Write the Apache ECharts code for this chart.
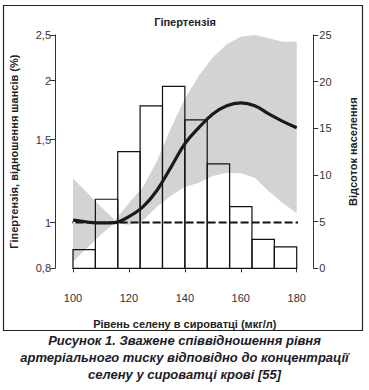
<!DOCTYPE html>
<html>
<head>
<meta charset="utf-8">
<script src="https://cdn.jsdelivr.net/npm/echarts@6/dist/echarts.min.js"></script>
<style>
html,body{margin:0;padding:0;background:#fff;}
#chart{width:369px;height:390px;}
</style>
</head>
<body>
<div id="chart"></div>
<script>
// ---- data ----
const chartTitle = 'Гіпертензія';
const xName = 'Рівень селену в сироватці (мкг/л)';
const yLeftName = 'Гіпертензія, відношення шансів (%)';
const yRightName = 'Відсоток населення';
const captionLines = [
  'Рисунок 1. Зважене співвідношення рівня',
  'артеріального тиску відповідно до концентрації',
  'селену у сироватці крові [55]'
];
const xTicks = [100, 120, 140, 160, 180];
const leftTicks = [0.8, 1, 1.5, 2, 2.5];
const rightTicks = [0, 5, 10, 15, 20, 25];

// histogram: bin start, bin end, percent of population
const binStart = [100, 108, 116, 124, 132, 140, 148, 156, 164, 172];
const binEnd   = [108, 116, 124, 132, 140, 148, 156, 164, 172, 180];
const binPct   = [2.0, 7.4, 12.5, 17.4, 19.5, 15.9, 11.2, 6.6, 3.1, 2.3];

// odds ratio curve
const curveX = [100, 105, 110, 115, 120, 125, 130, 135, 140, 145, 150, 155, 160, 165, 170, 175, 180];
const curveY = [1.012, 1.003, 0.998, 1.0, 1.03, 1.08, 1.17, 1.31, 1.47, 1.59, 1.70, 1.77, 1.795, 1.77, 1.70, 1.64, 1.59];

// confidence band
const bandX     = [100, 105, 110, 115, 120, 125, 130, 135, 140, 145, 150, 155, 160, 165, 170, 175, 180];
const bandUpper = [1.24, 1.158, 1.081, 1.012, 1.10, 1.19, 1.35, 1.585, 1.83, 2.05, 2.24, 2.39, 2.48, 2.50, 2.46, 2.42, 2.42];
const bandLower = [0.826, 0.883, 0.944, 0.998, 0.99, 1.01, 1.08, 1.14, 1.19, 1.215, 1.255, 1.275, 1.272, 1.245, 1.165, 1.10, 1.047];

// reference line OR = 1
const refX = [97, 183];
const refY = [1, 1];

const FONT = '"Liberation Sans", Arial, sans-serif';
const chart = echarts.init(document.getElementById('chart'), null, {renderer: 'svg'});

const option = {
  animation: false,
  backgroundColor: '#fff',
  title: {
    text: chartTitle,
    left: 180, top: 11, textAlign: 'center',
    textStyle: {fontFamily: FONT, fontSize: 11, fontWeight: 'bold', color: '#222'}
  },
  grid: {left: 71, right: 72.3, top: 35, bottom: 121.7},
  xAxis: {
    type: 'value', min: 100, max: 180, interval: 20, offset: 17,
    name: xName, nameLocation: 'middle', nameGap: 33,
    nameTextStyle: {fontFamily: FONT, fontSize: 11, fontWeight: 'bold', color: '#222'},
    axisLine: {show: true, lineStyle: {color: '#333', width: 1}},
    axisTick: {show: true, length: 4, lineStyle: {color: '#333'}, customValues: xTicks},
    axisLabel: {fontFamily: FONT, fontSize: 11, color: '#333', margin: 7, customValues: xTicks},
    splitLine: {show: false}
  },
  yAxis: [
    {
      type: 'log', logBase: 10, min: 0.8, max: 2.5, offset: 18, position: 'left',
      name: yLeftName, nameLocation: 'middle', nameGap: 36, nameRotate: 90,
      nameTextStyle: {fontFamily: FONT, fontSize: 11, fontWeight: 'bold', color: '#222'},
      axisLine: {show: true, lineStyle: {color: '#333', width: 1}},
      axisTick: {show: true, length: 5, lineStyle: {color: '#333'}, customValues: leftTicks},
      axisLabel: {fontFamily: FONT, fontSize: 11, color: '#333', margin: 4, customValues: leftTicks,
        formatter: v => String(v).replace('.', ',')},
      splitLine: {show: false}
    },
    {
      type: 'value', min: 0, max: 25, interval: 5, offset: 16.6, position: 'right',
      name: yRightName, nameLocation: 'middle', nameGap: 34, nameRotate: 90,
      nameTextStyle: {fontFamily: FONT, fontSize: 11, fontWeight: 'bold', color: '#222'},
      axisLine: {show: true, lineStyle: {color: '#333', width: 1}},
      axisTick: {show: true, length: 5, lineStyle: {color: '#333'}},
      axisLabel: {fontFamily: FONT, fontSize: 11, color: '#333', margin: 6},
      splitLine: {show: false}
    }
  ],
  graphic: [
    {type: 'rect', shape: {x: 3.5, y: 5.5, width: 359, height: 325},
     style: {fill: 'none', stroke: '#222', lineWidth: 1.2}, silent: true, z: 100}
  ].concat(captionLines.map((t, i) => ({
    type: 'text', left: 'center', top: 334 + i * 17,
    style: {text: t, font: 'italic bold 13px ' + FONT, fill: '#1c1c28', textAlign: 'center'}
  }))),
  series: [
    {
      type: 'custom', name: 'band', xAxisIndex: 0, yAxisIndex: 0, z: 1, silent: true,
      data: bandX.map((x, i) => [x, bandLower[i], bandUpper[i]]),
      renderItem: function (params, api) {
        if (params.dataIndex !== 0) return null;
        const pts = [];
        for (let i = 0; i < bandX.length; i++) pts.push(api.coord([bandX[i], bandUpper[i]]));
        for (let i = bandX.length - 1; i >= 0; i--) pts.push(api.coord([bandX[i], bandLower[i]]));
        return {type: 'polygon', shape: {points: pts}, style: {fill: '#d2d3d5', stroke: null}};
      }
    },
    {
      type: 'custom', name: 'hist', xAxisIndex: 0, yAxisIndex: 1, z: 2, silent: true,
      data: binStart.map((s, i) => [s, binEnd[i], binPct[i]]),
      renderItem: function (params, api) {
        const p0 = api.coord([api.value(0), 0]);
        const p1 = api.coord([api.value(1), api.value(2)]);
        return {type: 'rect', shape: {x: p0[0], y: p1[1], width: p1[0] - p0[0], height: p0[1] - p1[1]},
          style: {fill: 'none', stroke: '#111', lineWidth: 1.2}};
      }
    },
    {
      type: 'line', name: 'ref', xAxisIndex: 0, yAxisIndex: 0, z: 3, clip: false, silent: true,
      data: refX.map((x, i) => [x, refY[i]]), showSymbol: false,
      lineStyle: {color: '#111', width: 2, type: [8, 3]}
    },
    {
      type: 'line', name: 'OR', xAxisIndex: 0, yAxisIndex: 0, z: 4, silent: true,
      data: curveX.map((x, i) => [x, curveY[i]]), showSymbol: false, smooth: 0.4,
      lineStyle: {color: '#1a1a1a', width: 3.2}
    }
  ]
};
chart.setOption(option);
</script>
</body>
</html>
